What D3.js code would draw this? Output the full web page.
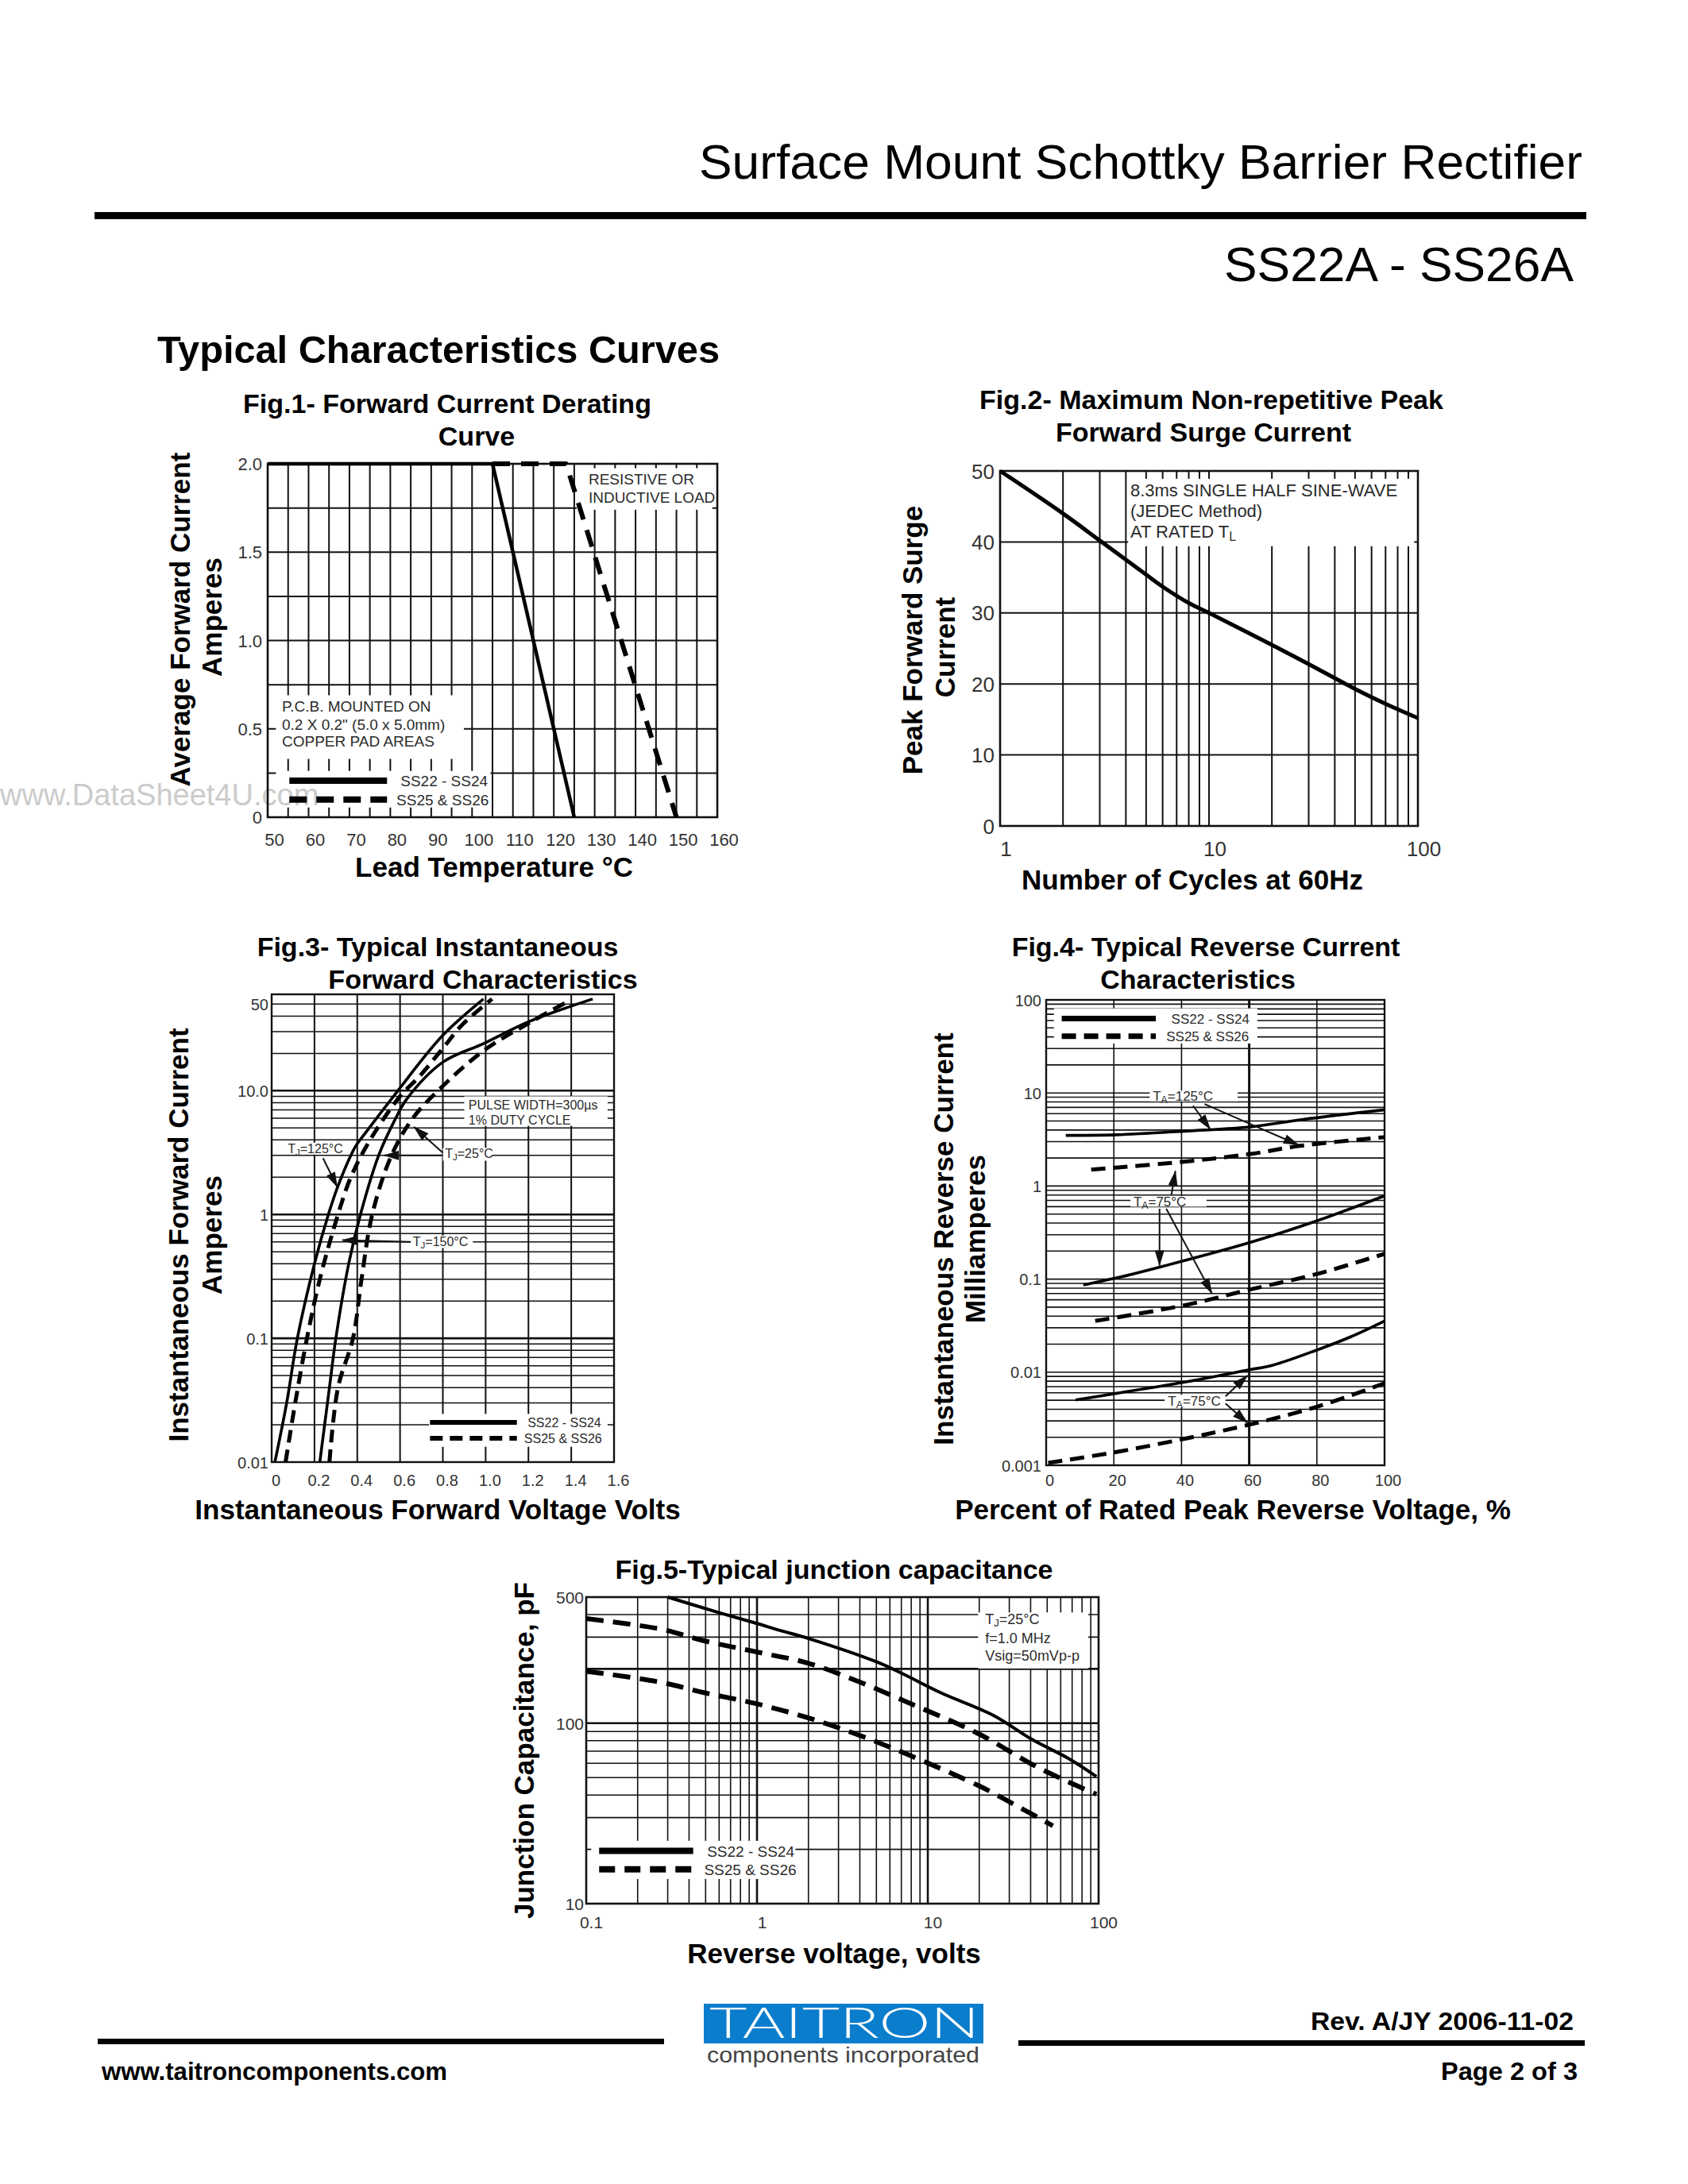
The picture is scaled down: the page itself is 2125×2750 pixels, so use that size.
<!DOCTYPE html>
<html><head><meta charset="utf-8"><title>SS22A - SS26A</title>
<script src="https://cdn.jsdelivr.net/npm/d3@7/dist/d3.min.js"></script>
<style>html,body{margin:0;padding:0;background:#fff}svg{display:block}</style>
</head><body>
<svg id="page" width="2125" height="2750" xmlns="http://www.w3.org/2000/svg"></svg>
<script>
// ================= DATA =================
const legendNames = ["SS22 - SS24", "SS25 & SS26"];

// Fig.1 Forward current derating  [lead temp °C, amperes]
const fig1XTicks = [50,60,70,80,90,100,110,120,130,140,150,160];
const fig1YTicks = [0,0.5,1.0,1.5,2.0];
const fig1SS22 = [[50,2.0],[105,2.0],[125,0]];
const fig1SS25 = [[105,2.0],[123,2.0],[150,0]];

// Fig.2 Surge current  [cycles, amperes]
const fig2XTicks = [1,10,100];
const fig2YTicks = [0,10,20,30,40,50];
const fig2Surge = [[1,50],[2,44],[3,40.2],[4,37.5],[5,35.4],[6,33.7],[8,31.4],[10,30],[20,25.5],[30,22.8],[50,19.3],[70,17.2],[100,15.2]];

// Fig.3 Forward characteristics  [volts, amperes]
const fig3XTicks = [0,0.2,0.4,0.6,0.8,1.0,1.2,1.4,1.6];
const fig3YTicks = [0.01,0.1,1,10,50];
const fig3YLabels = ["0.01","0.1","1","10.0","50"];
const fig3SS22_125 = [[0.015,0.01],[0.07,0.03],[0.12,0.1],[0.2,0.4],[0.265,1],[0.31,1.7],[0.39,3.5],[0.44,4.6],[0.59,10],[0.8,28],[0.99,55]];
const fig3SS25_125 = [[0.065,0.01],[0.11,0.03],[0.165,0.1],[0.225,0.3],[0.31,1],[0.37,2],[0.46,4],[0.6,9],[0.69,13],[0.8,22],[0.89,34],[1.03,55]];
const fig3SS22_25 = [[0.225,0.01],[0.27,0.04],[0.3,0.1],[0.36,0.4],[0.415,1],[0.5,3],[0.58,6],[0.63,8.5],[0.8,17],[0.99,24],[1.2,36],[1.5,55]];
const fig3SS25_25 = [[0.27,0.01],[0.31,0.04],[0.38,0.1],[0.42,0.3],[0.47,1],[0.56,3],[0.66,6],[0.79,10.5],[0.99,21],[1.2,35],[1.38,52]];

// Fig.4 Reverse current  [% rated voltage, mA]
const fig4XTicks = [0,20,40,60,80,100];
const fig4YTicks = [0.001,0.01,0.1,1,10,100];
const fig4YLabels = ["0.001","0.01","0.1","1","10","100"];
const fig4SS22_125 = [[5.8,3.5],[20.8,3.55],[41.6,3.9],[60,4.3],[76,5.2],[100,6.6]];
const fig4SS25_125 = [[13.3,1.5],[39,1.8],[60,2.2],[75,2.7],[100,3.35]];
const fig4SS22_75 = [[11,0.0865],[20.8,0.103],[34.7,0.138],[60,0.246],[79.8,0.42],[100,0.785]];
const fig4SS25_75 = [[14.5,0.0355],[41.6,0.053],[60,0.077],[79.8,0.113],[100,0.187]];
const fig4SS22_low = [[8.7,0.00503],[20.8,0.00593],[41.6,0.0079],[60,0.0106],[67,0.0119],[79.8,0.0172],[90,0.024],[100,0.0355]];
const fig4SS25_low = [[0.6,0.00106],[20.8,0.00139],[41.6,0.00195],[60,0.00273],[79.8,0.00423],[100,0.0076]];

// Fig.5 Junction capacitance  [volts, pF]
const fig5XTicks = [0.1,1,10,100];
const fig5XLabels = ["0.1","1","10","100"];
const fig5YTicks = [10,100,500];
const fig5SS22 = [[0.3,500],[0.6,410],[1.0,357],[1.36,327],[2,295],[5,219],[7.2,187],[12,147],[24,111],[41,81],[67,63.6],[97,50.7]];
const fig5SS25a = [[0.1,380],[0.27,333],[0.5,285],[1,248],[2,215],[4,169],[8,128],[20,87],[41,59],[59,49.8],[97,40.4]];
const fig5SS25b = [[0.1,194],[0.27,169],[0.5,147],[1,128],[2,107],[4,85.5],[8,65.8],[20,44.9],[35,33.9],[54,27]];

// ================= DRAWING =================
const svg = d3.select("#page");
const F = "'Liberation Sans', Arial, Helvetica, sans-serif";
const INK = "#111", TXT = "#2b2b2b";
svg.append("rect").attr("width",2125).attr("height",2750).attr("fill","#fff");

const defs = svg.append("defs");
defs.append("marker").attr("id","arr").attr("viewBox","0 0 20 12").attr("refX",19).attr("refY",6)
  .attr("markerWidth",20).attr("markerHeight",12).attr("markerUnits","userSpaceOnUse").attr("orient","auto")
  .append("path").attr("d","M0,0 L20,6 L0,12 Z").attr("fill",INK);

function T(g, x, y, s, o = {}) {
  const t = g.append("text").attr("x", x).attr("y", y).text(s)
    .attr("font-family", o.family || F).attr("font-size", o.size || 20)
    .attr("font-weight", o.weight || "normal").attr("fill", o.fill || "#000")
    .attr("text-anchor", o.anchor || "start");
  if (o.rotate) t.attr("transform", `rotate(-90,${x},${y})`).attr("dominant-baseline","central");
  if (o.len) t.attr("textLength", o.len).attr("lengthAdjust", "spacingAndGlyphs");
  return t;
}
// text with a subscript letter: main + sub + rest, y = center line
function subT(g, x, y, main, sub, rest, size) {
  const t = g.append("text").attr("x", x).attr("y", y + size * 0.35)
    .attr("font-family", F).attr("font-size", size).attr("fill", TXT);
  t.append("tspan").text(main);
  t.append("tspan").text(sub).attr("font-size", size * 0.72).attr("dy", size * 0.18);
  t.append("tspan").text(rest).attr("dy", -size * 0.18);
  return t;
}
function vgrid(g, x, y, vals, w) {
  g.append("g").selectAll("line").data(vals).join("line")
    .attr("x1", d => x(d)).attr("x2", d => x(d))
    .attr("y1", y.range()[0]).attr("y2", y.range()[1])
    .attr("stroke", INK).attr("stroke-width", typeof w === "function" ? w : (w || 1.8));
}
function hgrid(g, x, y, vals, w) {
  g.append("g").selectAll("line").data(vals).join("line")
    .attr("y1", d => y(d)).attr("y2", d => y(d))
    .attr("x1", x.range()[0]).attr("x2", x.range()[1])
    .attr("stroke", INK).attr("stroke-width", typeof w === "function" ? w : (w || 1.8));
}
function box(g, x, y, xr, yr) {
  g.append("rect").attr("x", x(xr[0])).attr("y", y(yr[1]))
    .attr("width", x(xr[1]) - x(xr[0])).attr("height", y(yr[0]) - y(yr[1])).attr("fill", "#fff");
}
function frame(g, x, y, w) {
  const [a, b] = x.range(), [c, d] = y.range();
  g.append("rect").attr("x", a).attr("y", d).attr("width", b - a).attr("height", c - d)
    .attr("fill", "none").attr("stroke", INK).attr("stroke-width", w || 2.4);
}
function curve(g, x, y, data, dashed, o = {}) {
  const line = d3.line().x(d => x(d[0])).y(d => y(d[1])).curve(o.curve || d3.curveCatmullRom.alpha(0.5));
  g.append("path").attr("d", line(data)).attr("fill", "none").attr("stroke", "#000")
    .attr("stroke-width", o.w || 5).attr("stroke-dasharray", dashed ? (o.dash || "20,12") : null)
    .attr("stroke-linejoin", "round");
}
function arrow(g, x, y, p0, p1) {
  g.append("line").attr("x1", x(p0[0])).attr("y1", y(p0[1])).attr("x2", x(p1[0])).attr("y2", y(p1[1]))
    .attr("stroke", INK).attr("stroke-width", 2).attr("marker-end", "url(#arr)");
}
function xAxis(g, x, ticks, fmt, yPos, dx, size) {
  const ax = g.append("g").attr("transform", `translate(0,${yPos})`)
    .call(d3.axisBottom(x).tickValues(ticks).tickFormat(fmt).tickSize(0).tickPadding(0));
  ax.select(".domain").remove();
  ax.selectAll("text").attr("font-family", F).attr("font-size", size || 22).attr("fill", "#333")
    .attr("dy", "0.35em").attr("dx", dx || 0);
}
function yAxis(g, y, ticks, fmt, xPos, size) {
  const ax = g.append("g").attr("transform", `translate(${xPos},0)`)
    .call(d3.axisLeft(y).tickValues(ticks).tickFormat(fmt).tickSize(0).tickPadding(0));
  ax.select(".domain").remove();
  ax.selectAll("text").attr("font-family", F).attr("font-size", size || 22).attr("fill", "#333")
    .attr("dy", "0.35em");
}
function legend(g, x, y, xs, ys, dash, w) {
  g.append("line").attr("x1", x(xs[0])).attr("x2", x(xs[1])).attr("y1", y(ys[0])).attr("y2", y(ys[0]))
    .attr("stroke", "#000").attr("stroke-width", w || 8);
  g.append("line").attr("x1", x(xs[0])).attr("x2", x(xs[1])).attr("y1", y(ys[1])).attr("y2", y(ys[1]))
    .attr("stroke", "#000").attr("stroke-width", w || 8).attr("stroke-dasharray", dash);
}

// ---- header ----
T(svg, 1992, 225, "Surface Mount Schottky Barrier Rectifier", {size: 62, anchor: "end", len: 1112});
svg.append("rect").attr("x", 119).attr("y", 267).attr("width", 1878).attr("height", 9).attr("fill", "#000");
T(svg, 1981, 354, "SS22A - SS26A", {size: 62, anchor: "end", len: 440});
T(svg, 198, 457, "Typical Characteristics Curves", {size: 48, weight: "bold", len: 708});

// ================= Fig.1 =================
{
  const g = svg.append("g");
  const x = d3.scaleLinear().domain([50,160]).range([337,903]);
  const y = d3.scaleLinear().domain([0,2]).range([1029,584]);
  vgrid(g, x, y, d3.range(55,160,5), 2);
  hgrid(g, x, y, d3.range(0.25,2,0.25), 2);
  box(g, x, y, [125.6,158.8], [1.74,1.975]);
  box(g, x, y, [52,98], [0.33,0.69]);
  box(g, x, y, [52,104.5], [0.055,0.262]);
  // watermark of the scanned page (sits above the boxes, below the curves)
  T(g, 0, 1014, "www.DataSheet4U.com", {size: 38, fill: "#cbcbcb"});
  frame(g, x, y, 2.6);
  curve(g, x, y, fig1SS22, false, {curve: d3.curveLinear, w: 4.5});
  curve(g, x, y, fig1SS25, true, {curve: d3.curveLinear, w: 6, dash: "22,14"});
  const at = {size: 19, fill: TXT};
  T(g, x(128.5), y(1.914) + 7, "RESISTIVE OR", at);
  T(g, x(128.5), y(1.813) + 7, "INDUCTIVE LOAD", at);
  T(g, x(53.5), y(0.63) + 7, "P.C.B. MOUNTED ON", at);
  T(g, x(53.5), y(0.527) + 7, "0.2 X 0.2\" (5.0 x 5.0mm)", at);
  T(g, x(53.5), y(0.432) + 7, "COPPER PAD AREAS", at);
  legend(g, x, y, [55.3,79.2], [0.207,0.1], "22,12", 8);
  T(g, x(82.5), y(0.207) + 7, legendNames[0], at);
  T(g, x(81.5), y(0.1) + 7, legendNames[1], at);
  xAxis(g, x, fig1XTicks, d => d, 1057, 8);
  yAxis(g, y, fig1YTicks, d => d === 0 ? "0" : d.toFixed(1), 330);
  T(g, 563, 520, "Fig.1- Forward Current Derating", {size: 34, weight: "bold", anchor: "middle"});
  T(g, 600, 561, "Curve", {size: 34, weight: "bold", anchor: "middle"});
  T(g, 226, 780, "Average Forward Current", {size: 35, weight: "bold", anchor: "middle", rotate: true});
  T(g, 266, 777, "Amperes", {size: 35, weight: "bold", anchor: "middle", rotate: true});
  T(g, 622, 1104, "Lead Temperature °C", {size: 35, weight: "bold", anchor: "middle"});
}

// ================= Fig.2 =================
{
  const g = svg.append("g");
  const x = d3.scaleLog().domain([1,100]).range([1259,1785]);
  const y = d3.scaleLinear().domain([0,50]).range([1040,593]);
  vgrid(g, x, y, x.ticks().filter(d => d > 1 && d < 100), 2);
  hgrid(g, x, y, [10,20,30,40], 2);
  box(g, x, y, [4.1,96], [39.4,48.9]);
  frame(g, x, y, 2.6);
  curve(g, x, y, fig2Surge, false, {w: 5});
  const at = {size: 22, fill: TXT};
  T(g, x(4.2), y(47.3) + 8, "8.3ms SINGLE HALF SINE-WAVE", at);
  T(g, x(4.2), y(44.4) + 8, "(JEDEC Method)", at);
  subT(g, x(4.2), y(41.5), "AT RATED T", "L", "", 22);
  xAxis(g, x, fig2XTicks, d => d, 1069, 7, 26);
  yAxis(g, y, fig2YTicks, d => d, 1252, 26);
  T(g, 1525, 515, "Fig.2- Maximum Non-repetitive Peak", {size: 34, weight: "bold", anchor: "middle"});
  T(g, 1515, 556, "Forward Surge Current", {size: 34, weight: "bold", anchor: "middle"});
  T(g, 1148, 806, "Peak Forward Surge", {size: 35, weight: "bold", anchor: "middle", rotate: true});
  T(g, 1189, 815, "Current", {size: 35, weight: "bold", anchor: "middle", rotate: true});
  T(g, 1501, 1120, "Number of Cycles at 60Hz", {size: 35, weight: "bold", anchor: "middle"});
}

// ================= Fig.3 =================
{
  const g = svg.append("g");
  const x = d3.scaleLinear().domain([0,1.6]).range([342,773]);
  const y = d3.scaleLog().domain([0.01,60]).range([1841,1252]);
  vgrid(g, x, y, fig3XTicks.slice(1, -1), 2);
  hgrid(g, x, y, y.ticks().filter(d => d > 0.01 && d < 60), d => [0.1,1,10].includes(+d.toPrecision(3)) ? 2.6 : 1.5);
  box(g, x, y, [0.9,1.57], [5.2,9.0]);
  box(g, x, y, [0.058,0.34], [3.05,3.8]);
  box(g, x, y, [0.8,1.03], [2.72,3.45]);
  box(g, x, y, [0.65,0.94], [0.535,0.675]);
  box(g, x, y, [0.735,1.57], [0.0133,0.0245]);
  frame(g, x, y, 2.4);
  curve(g, x, y, fig3SS22_125, false, {w: 3.6});
  curve(g, x, y, fig3SS25_125, true, {w: 5, dash: "16,9"});
  curve(g, x, y, fig3SS22_25, false, {w: 3.6});
  curve(g, x, y, fig3SS25_25, true, {w: 5, dash: "16,9"});
  const at = {size: 16, fill: TXT};
  T(g, x(0.92), y(7.7) + 6, "PULSE WIDTH=300µs", at);
  T(g, x(0.92), y(5.8) + 6, "1% DUTY CYCLE", at);
  subT(g, x(0.075), y(3.4), "T", "J", "=125°C", 16);
  subT(g, x(0.81), y(3.1), "T", "J", "=25°C", 16);
  subT(g, x(0.66), y(0.6), "T", "J", "=150°C", 16);
  arrow(g, x, y, [0.24,2.85], [0.307,1.66]);
  arrow(g, x, y, [0.8,3.15], [0.665,5.1]);
  arrow(g, x, y, [0.8,3.0], [0.525,3.0]);
  arrow(g, x, y, [0.65,0.6], [0.33,0.62]);
  legend(g, x, y, [0.74,1.146], [0.0209,0.0156], "16,9", 6);
  T(g, x(1.196), y(0.0209) + 6, legendNames[0], at);
  T(g, x(1.18), y(0.0156) + 6, legendNames[1], at);
  xAxis(g, x, fig3XTicks, d => d === 0 ? "0" : d.toFixed(1), 1864, 5, 20);
  yAxis(g, y, fig3YTicks, (d, i) => fig3YLabels[i], 338, 20);
  T(g, 551, 1204, "Fig.3- Typical Instantaneous", {size: 34, weight: "bold", anchor: "middle"});
  T(g, 608, 1245, "Forward Characteristics", {size: 34, weight: "bold", anchor: "middle"});
  T(g, 224, 1555, "Instantaneous Forward Current", {size: 35, weight: "bold", anchor: "middle", rotate: true});
  T(g, 266, 1555, "Amperes", {size: 35, weight: "bold", anchor: "middle", rotate: true});
  T(g, 551, 1913, "Instantaneous Forward Voltage Volts", {size: 35, weight: "bold", anchor: "middle"});
}

// ================= Fig.4 =================
{
  const g = svg.append("g");
  const x = d3.scaleLinear().domain([0,100]).range([1317,1743]);
  const y = d3.scaleLog().domain([0.001,100]).range([1845,1259]);
  vgrid(g, x, y, [20,40,80], 1.6);
  vgrid(g, x, y, [60], 3);
  hgrid(g, x, y, y.ticks().filter(d => d > 0.001 && d < 100), 1.6);
  box(g, x, y, [2.3,62.4], [34,81]);
  box(g, x, y, [30.6,56.6], [8.1,10.6]);
  box(g, x, y, [24.9,47.4], [0.6,0.78]);
  box(g, x, y, [35,53], [0.0042,0.0057]);
  frame(g, x, y, 2.4);
  curve(g, x, y, fig4SS22_125, false, {w: 3.6});
  curve(g, x, y, fig4SS25_125, true, {w: 5, dash: "18,10"});
  curve(g, x, y, fig4SS22_75, false, {w: 3.6});
  curve(g, x, y, fig4SS25_75, true, {w: 5, dash: "18,10"});
  curve(g, x, y, fig4SS22_low, false, {w: 3.6});
  curve(g, x, y, fig4SS25_low, true, {w: 5, dash: "18,10"});
  subT(g, x(31.5), y(9.25), "T", "A", "=125°C", 17);
  subT(g, x(25.8), y(0.68), "T", "A", "=75°C", 17);
  subT(g, x(36), y(0.0049), "T", "A", "=75°C", 17);
  arrow(g, x, y, [43.4,7.3], [48.5,4.07]);
  arrow(g, x, y, [46.8,7.6], [74.6,2.76]);
  arrow(g, x, y, [37,0.8], [38.2,1.45]);
  arrow(g, x, y, [33.5,0.57], [33.5,0.14]);
  arrow(g, x, y, [35.5,0.57], [49,0.07]);
  arrow(g, x, y, [53,0.0055], [59.5,0.0092]);
  arrow(g, x, y, [53,0.0046], [59.5,0.00285]);
  legend(g, x, y, [4.6,32.4], [63,40.7], "18,10", 7);
  T(g, x(37), y(63) + 6, legendNames[0], {size: 17, fill: TXT});
  T(g, x(35.5), y(40.7) + 6, legendNames[1], {size: 17, fill: TXT});
  xAxis(g, x, fig4XTicks, d => d, 1864, 4, 20);
  yAxis(g, y, fig4YTicks, (d, i) => fig4YLabels[i], 1311, 20);
  T(g, 1518, 1204, "Fig.4- Typical Reverse Current", {size: 34, weight: "bold", anchor: "middle"});
  T(g, 1508, 1245, "Characteristics", {size: 34, weight: "bold", anchor: "middle"});
  T(g, 1187, 1560, "Instantaneous Reverse Current", {size: 35, weight: "bold", anchor: "middle", rotate: true});
  T(g, 1227, 1560, "Milliamperes", {size: 35, weight: "bold", anchor: "middle", rotate: true});
  T(g, 1552, 1913, "Percent of Rated Peak Reverse Voltage, %", {size: 35, weight: "bold", anchor: "middle"});
}

// ================= Fig.5 =================
{
  const g = svg.append("g");
  const x = d3.scaleLog().domain([0.1,100]).range([738,1383]);
  const y = d3.scaleLog().domain([10,500]).range([2397,2011]);
  vgrid(g, x, y, x.ticks().filter(d => d > 0.1 && d < 100), d => [1,10].includes(+d.toPrecision(3)) ? 2.6 : 1.6);
  hgrid(g, x, y, y.ticks().filter(d => d > 10 && d < 500), d => [100,200].includes(+d.toPrecision(3)) ? 2.6 : 1.6);
  box(g, x, y, [0.107,1.68], [13.7,22.3]);
  box(g, x, y, [19.7,87], [201,411]);
  frame(g, x, y, 2.6);
  curve(g, x, y, fig5SS22, false, {w: 4});
  curve(g, x, y, fig5SS25a, true, {w: 6, dash: "22,12"});
  curve(g, x, y, fig5SS25b, true, {w: 6, dash: "22,12"});
  subT(g, x(21.7), y(377), "T", "J", "=25°C", 18);
  T(g, x(21.7), y(295) + 6, "f=1.0 MHz", {size: 18, fill: TXT});
  T(g, x(21.7), y(235) + 6, "Vsig=50mVp-p", {size: 18, fill: TXT});
  legend(g, x, y, [0.119,0.423], [19.6,15.5], "20,12", 8);
  T(g, x(0.51), y(19.6) + 7, legendNames[0], {size: 19, fill: TXT});
  T(g, x(0.49), y(15.5) + 7, legendNames[1], {size: 19, fill: TXT});
  xAxis(g, x, fig5XTicks, (d, i) => fig5XLabels[i], 2421, 6, 21);
  yAxis(g, y, fig5YTicks, d => d, 735, 21);
  T(g, 1050, 1988, "Fig.5-Typical junction capacitance", {size: 34, weight: "bold", anchor: "middle"});
  T(g, 659, 2204, "Junction Capacitance, pF", {size: 35, weight: "bold", anchor: "middle", rotate: true});
  T(g, 1050, 2472, "Reverse voltage, volts", {size: 35, weight: "bold", anchor: "middle"});
}

// ---- footer ----
svg.append("rect").attr("x", 123).attr("y", 2567).attr("width", 713).attr("height", 7).attr("fill", "#000");
svg.append("rect").attr("x", 1282).attr("y", 2569).attr("width", 713).attr("height", 7).attr("fill", "#000");
T(svg, 128, 2619, "www.taitroncomponents.com", {size: 31, weight: "bold", len: 435});
T(svg, 1981, 2556, "Rev. A/JY 2006-11-02", {size: 32, weight: "bold", anchor: "end", len: 331});
T(svg, 1986, 2619, "Page 2 of 3", {size: 32, weight: "bold", anchor: "end", len: 172});
svg.append("rect").attr("x", 886).attr("y", 2523).attr("width", 352).attr("height", 50).attr("fill", "#0a7dcc");
T(svg, 893, 2566, "TAITRON", {size: 54, fill: "#fff", len: 340, family: "'Lato','Liberation Sans',sans-serif", weight: 300});
T(svg, 890, 2597, "components incorporated", {size: 28, fill: "#444", len: 343});
</script>
</body></html>
